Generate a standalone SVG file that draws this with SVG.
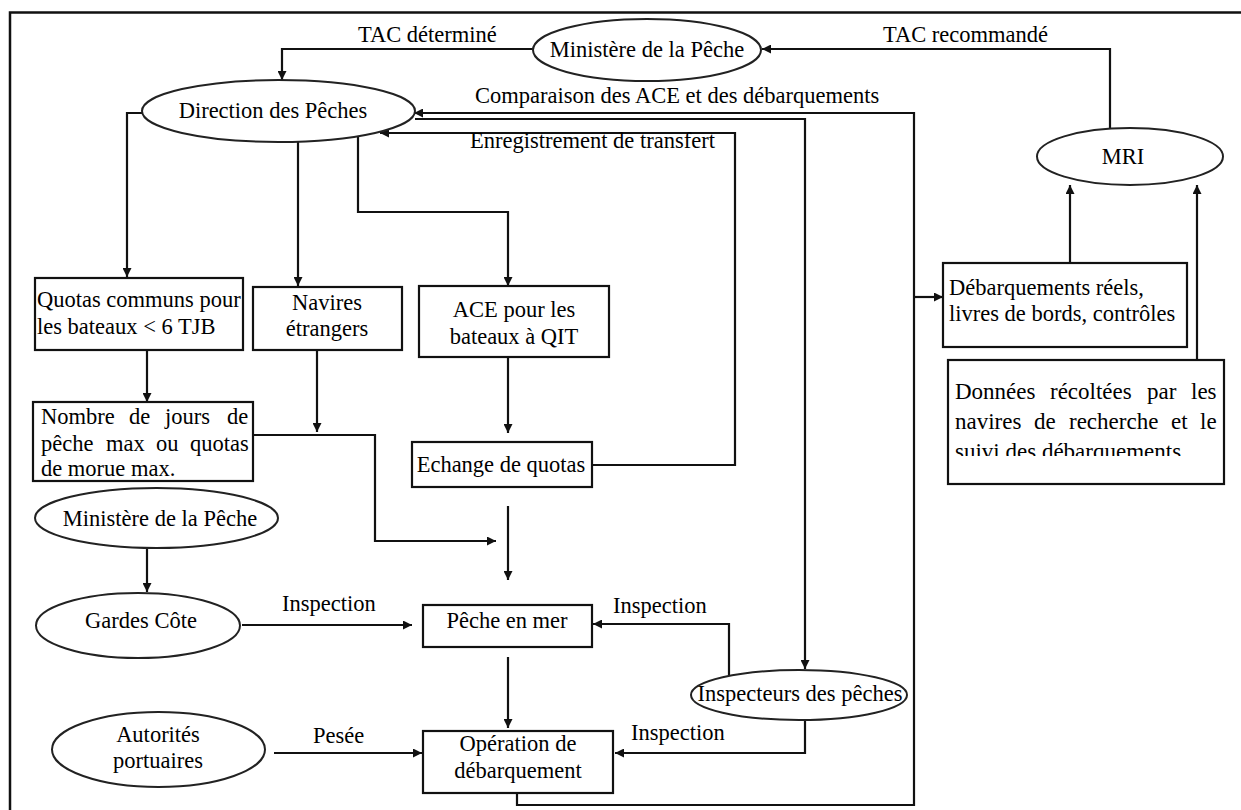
<svg xmlns="http://www.w3.org/2000/svg" width="1241" height="810" viewBox="0 0 1241 810" font-family="'Liberation Serif', 'DejaVu Serif', serif">
<style>
text{font-family:'Liberation Serif','Times New Roman',serif;font-size:22.5px;fill:#000}
.c{text-anchor:middle}
.box{fill:#fff;stroke:#111;stroke-width:2.2}
.ell{fill:#fff;stroke:#222;stroke-width:2}
.ln{fill:none;stroke:#111;stroke-width:2.2}
.big{font-size:23px}
</style>
<defs>
<marker id="ah" viewBox="0 0 10 10" refX="10" refY="5" markerUnits="userSpaceOnUse" markerWidth="11" markerHeight="9" orient="auto">
<path d="M0,0 L10,5 L0,10 z" fill="#111"/>
</marker>
<clipPath id="clip3"><rect x="945" y="430" width="285" height="26"/></clipPath>
</defs>
<rect width="1241" height="810" fill="#fff"/>
<g id="frame">
<path d="M10,810 V12.5 H1241" fill="none" stroke="#111" stroke-width="2.5"/>
</g>
<g id="connectors">
<path class="ln" d="M533,49 H282 V80" marker-end="url(#ah)"/>
<path class="ln" d="M1110,128 V49 H762" marker-end="url(#ah)"/>
<path class="ln" d="M517,793 V805 H914 V113 H414" marker-end="url(#ah)"/>
<path class="ln" d="M914,297 H943" marker-end="url(#ah)"/>
<path class="ln" d="M415,119 H805 V669" marker-end="url(#ah)"/>
<path class="ln" d="M592,465 H735 V133 H380" marker-end="url(#ah)"/>
<path class="ln" d="M142,113 H127 V277" marker-end="url(#ah)"/>
<path class="ln" d="M298,142 V286" marker-end="url(#ah)"/>
<path class="ln" d="M358,135 V212 H508 V286" marker-end="url(#ah)"/>
<path class="ln" d="M508,357 V433" marker-end="url(#ah)"/>
<path class="ln" d="M147,350 V402" marker-end="url(#ah)"/>
<path class="ln" d="M317,350 V432" marker-end="url(#ah)"/>
<path class="ln" d="M253,435 H375 V541 H496" marker-end="url(#ah)"/>
<path class="ln" d="M508,506 V580" marker-end="url(#ah)"/>
<path class="ln" d="M147,548 V592" marker-end="url(#ah)"/>
<path class="ln" d="M242,625 H412" marker-end="url(#ah)"/>
<path class="ln" d="M729,675 V624 H593" marker-end="url(#ah)"/>
<path class="ln" d="M508,657 V728" marker-end="url(#ah)"/>
<path class="ln" d="M274,753 H422" marker-end="url(#ah)"/>
<path class="ln" d="M805,720 V753 H615" marker-end="url(#ah)"/>
<path class="ln" d="M1070,263 V185" marker-end="url(#ah)"/>
<path class="ln" d="M1197,360 V185" marker-end="url(#ah)"/>
<text x="358" y="42">TAC déterminé</text>
<text x="883" y="42">TAC recommandé</text>
<text x="475" y="103">Comparaison des ACE et des débarquements</text>
<text x="470" y="148">Enregistrement de transfert</text>
<text x="282" y="611">Inspection</text>
<text x="613" y="613">Inspection</text>
<text x="313" y="743">Pesée</text>
<text x="631" y="740">Inspection</text>
</g>
<g id="ministere-top">
<ellipse class="ell" cx="647" cy="50" rx="114" ry="31"/>
<text class="c" x="647" y="57">Ministère de la Pêche</text>
</g>
<g id="direction">
<ellipse class="ell" cx="278.5" cy="111" rx="136.5" ry="31"/>
<text class="c" x="273" y="118">Direction des Pêches</text>
</g>
<g id="mri">
<ellipse class="ell" cx="1130" cy="156.5" rx="93" ry="28.5"/>
<text class="c" x="1123" y="164">MRI</text>
</g>
<g id="quotas">
<rect class="box" x="35" y="278" width="208" height="72"/>
<text x="37" y="307">Quotas communs pour</text>
<text x="37" y="334">les bateaux &lt; 6 TJB</text>
</g>
<g id="navires">
<rect class="box" x="253" y="287" width="149" height="63"/>
<text class="c" x="327" y="310">Navires</text>
<text class="c" x="327" y="336">étrangers</text>
</g>
<g id="ace">
<rect class="box" x="419" y="286" width="190" height="71"/>
<text class="c" x="514" y="317">ACE pour les</text>
<text class="c" x="514" y="344">bateaux à QIT</text>
</g>
<g id="nombre">
<rect class="box" x="33" y="402" width="220" height="79"/>
<text y="424"><tspan x="41">Nombre</tspan><tspan x="129">de</tspan><tspan x="165">jours</tspan><tspan x="227">de</tspan></text>
<text y="451"><tspan x="41">pêche</tspan><tspan x="106">max</tspan><tspan x="156">ou</tspan><tspan x="190">quotas</tspan></text>
<text x="41" y="476">de morue max.</text>
</g>
<g id="echange">
<rect class="box" x="412" y="442" width="180" height="45"/>
<text class="c" x="501" y="472">Echange de quotas</text>
</g>
<g id="debarquements">
<rect class="box" x="943" y="263" width="244" height="84"/>
<text x="949" y="295">Débarquements réels,</text>
<text x="949" y="321">livres de bords, contrôles</text>
</g>
<g id="donnees">
<rect class="box" x="948" y="360" width="276" height="124"/>
<text class="big" y="399"><tspan x="955">Données</tspan><tspan x="1050">récoltées</tspan><tspan x="1147">par</tspan><tspan x="1191">les</tspan></text>
<text class="big" y="429"><tspan x="955">navires</tspan><tspan x="1034">de</tspan><tspan x="1069">recherche</tspan><tspan x="1171">et</tspan><tspan x="1200">le</tspan></text>
<text class="big" x="955" y="459" clip-path="url(#clip3)">suivi des débarquements</text>
</g>
<g id="ministere-bas">
<ellipse class="ell" cx="156.5" cy="518" rx="121.5" ry="30"/>
<text class="c" x="160" y="526">Ministère de la Pêche</text>
</g>
<g id="gardes">
<ellipse class="ell" cx="138" cy="625.5" rx="102" ry="32.5"/>
<text class="c" x="141" y="628">Gardes Côte</text>
</g>
<g id="peche-mer">
<rect class="box" x="423" y="605" width="169" height="42"/>
<text class="c" x="507" y="628">Pêche en mer</text>
</g>
<g id="inspecteurs">
<ellipse class="ell" cx="799" cy="695" rx="108" ry="25"/>
<text class="c" x="800" y="701">Inspecteurs des pêches</text>
</g>
<g id="autorites">
<ellipse class="ell" cx="158.5" cy="749.5" rx="106.5" ry="37.5"/>
<text class="c" x="158" y="742">Autorités</text>
<text class="c" x="158" y="768">portuaires</text>
</g>
<g id="operation">
<rect class="box" x="423" y="731" width="190" height="62"/>
<text class="c" x="518" y="751">Opération de</text>
<text class="c" x="518" y="778">débarquement</text>
</g>
</svg>
